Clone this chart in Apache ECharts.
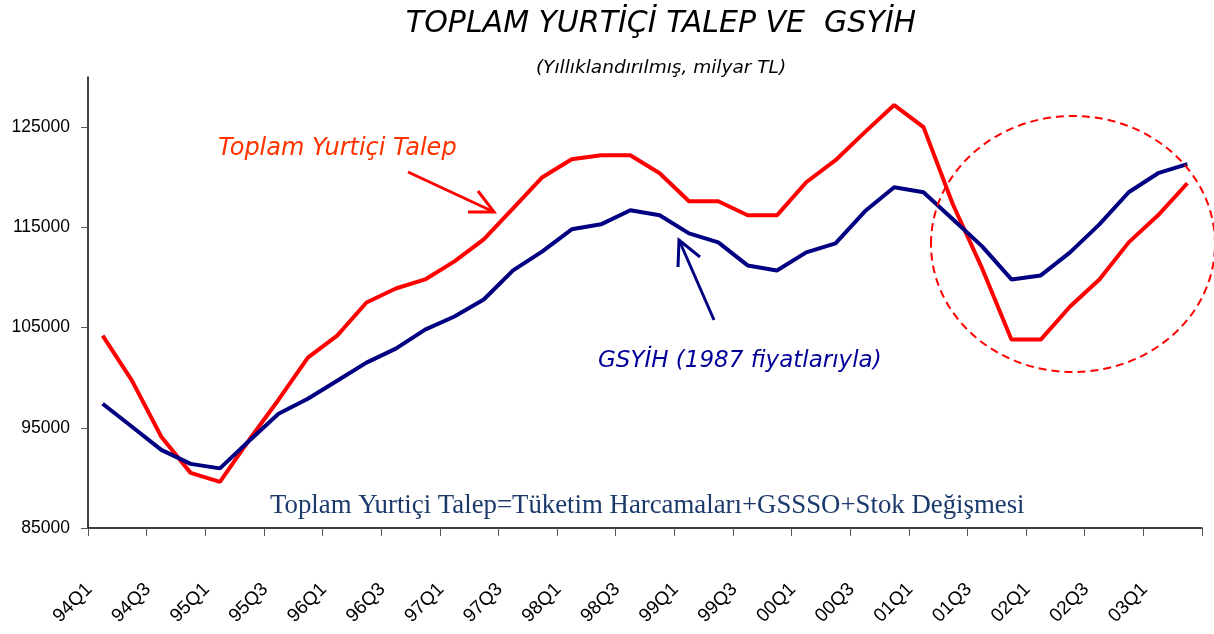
<!DOCTYPE html>
<html>
<meta charset="UTF-8">
<title>toplam-yurtici-talep</title>
<style type="text/css">
    html,
    body {
        margin: 0px;
        height: 100%;
        width: 100%;
        background: #fff;
    }

    #chart {
        width: 1214px;
        height: 634px;
    }
</style>
<script src="https://cdn.jsdelivr.net/npm/echarts@6/dist/echarts.min.js"></script>

<body>
    <div id="chart"></div>
    <script>
        // quarters 94Q1 .. 03Q2
        const quarters = [
            '94Q1', '94Q2', '94Q3', '94Q4', '95Q1', '95Q2', '95Q3', '95Q4',
            '96Q1', '96Q2', '96Q3', '96Q4', '97Q1', '97Q2', '97Q3', '97Q4',
            '98Q1', '98Q2', '98Q3', '98Q4', '99Q1', '99Q2', '99Q3', '99Q4',
            '00Q1', '00Q2', '00Q3', '00Q4', '01Q1', '01Q2', '01Q3', '01Q4',
            '02Q1', '02Q2', '02Q3', '02Q4', '03Q1', '03Q2'
        ];
        const talep = [
            104200, 99700, 94100, 90500, 89600, 93800, 97800, 102000,
            104200, 107500, 108900, 109800, 111600, 113800, 116900, 120000,
            121800, 122200, 122200, 120400, 117600, 117600, 116200, 116200,
            119500, 121700, 124500, 127200, 125000, 117300, 110900, 103800,
            103800, 107100, 109800, 113500, 116200, 119400
        ];
        const gsyih = [
            97400, 95100, 92800, 91400, 90950, 93700, 96400, 97900,
            99700, 101500, 102900, 104800, 106100, 107800, 110700, 112600,
            114800, 115300, 116700, 116200, 114400, 113500, 111200, 110700,
            112500, 113400, 116600, 119000, 118500, 115800, 113100, 109800,
            110200, 112500, 115300, 118500, 120400, 121300
        ];
        const yTicks = [85000, 95000, 105000, 115000, 125000];

        const sans = "'DejaVu Sans', Verdana, sans-serif";
        const arial = "'Liberation Sans', Arial, sans-serif";
        const chart = echarts.init(document.getElementById('chart'));

        const options = {
            animation: false,
            backgroundColor: '#fff',
            grid: {
                left: 88,
                right: 12,
                top: 77,
                bottom: 106
            },
            xAxis: {
                type: 'category',
                data: quarters,
                boundaryGap: true,
                axisLine: { lineStyle: { color: '#000', width: 1.5 } },
                axisTick: { show: true, interval: 1, length: 8, lineStyle: { color: '#555', width: 1 } },
                axisLabel: {
                    interval: 1,
                    rotate: 45,
                    margin: 45,
                    padding: [0, 19, 0, 0],
                    color: '#000',
                    fontSize: 19,
                    fontFamily: arial
                },
                splitLine: { show: false }
            },
            yAxis: {
                type: 'value',
                min: 85000,
                max: 130000,
                axisLine: { show: true, lineStyle: { color: '#000', width: 1.5 } },
                axisTick: { show: true, length: 7, customValues: yTicks, lineStyle: { color: '#555' } },
                axisLabel: {
                    customValues: yTicks,
                    formatter: v => String(v),
                    margin: 18,
                    color: '#000',
                    fontSize: 17.5,
                    fontFamily: arial
                },
                splitLine: { show: false }
            },
            series: [
                {
                    name: 'Toplam Yurtiçi Talep',
                    type: 'line',
                    data: talep,
                    showSymbol: false,
                    lineStyle: { color: '#ff0000', width: 4 },
                    z: 3
                },
                {
                    name: 'GSYİH (1987 fiyatlarıyla)',
                    type: 'line',
                    data: gsyih,
                    showSymbol: false,
                    lineStyle: { color: '#000080', width: 4 },
                    z: 4
                }
            ],
            graphic: [
                {
                    type: 'text', x: 661, y: 24,
                    style: {
                        text: 'TOPLAM YURTİÇİ TALEP VE  GSYİH',
                        font: 'italic 30px ' + sans,
                        fill: '#000', align: 'center', verticalAlign: 'middle'
                    }
                },
                {
                    type: 'text', x: 661, y: 68,
                    style: {
                        text: '(Yıllıklandırılmış, milyar TL)',
                        font: 'italic 18.5px ' + sans,
                        fill: '#000', align: 'center', verticalAlign: 'middle'
                    }
                },
                {
                    type: 'text', x: 218, y: 149,
                    style: {
                        text: 'Toplam Yurtiçi Talep',
                        font: 'italic 24px ' + sans,
                        fill: '#ff3300', align: 'left', verticalAlign: 'middle'
                    }
                },
                {
                    type: 'text', x: 598, y: 361,
                    style: {
                        text: 'GSYİH (1987 fiyatlarıyla)',
                        font: 'italic 23px ' + sans,
                        fill: '#000099', align: 'left', verticalAlign: 'middle'
                    }
                },
                {
                    type: 'text', x: 270, y: 506,
                    style: {
                        text: 'Toplam Yurtiçi Talep=Tüketim Harcamaları+GSSSO+Stok Değişmesi',
                        font: "26.8px 'Liberation Serif', 'Times New Roman', serif",
                        fill: '#1b3a6b', align: 'left', verticalAlign: 'middle'
                    }
                },
                // red arrow
                {
                    type: 'polyline',
                    shape: { points: [[408, 172], [494, 212]] },
                    style: { stroke: '#ff0000', lineWidth: 3, fill: null }
                },
                {
                    type: 'polyline',
                    shape: { points: [[478, 191], [494, 212], [468, 212]] },
                    style: { stroke: '#ff0000', lineWidth: 3, fill: null }
                },
                // blue arrow
                {
                    type: 'polyline',
                    shape: { points: [[714, 320], [679, 240]] },
                    style: { stroke: '#000080', lineWidth: 3, fill: null }
                },
                {
                    type: 'polyline',
                    shape: { points: [[678, 267], [679, 240], [700, 257]] },
                    style: { stroke: '#000080', lineWidth: 3, fill: null }
                },
                // dashed ellipse
                {
                    type: 'ellipse',
                    shape: { cx: 1073, cy: 244, rx: 142, ry: 128 },
                    style: { stroke: '#ff0000', lineWidth: 2, lineDash: [8, 5], fill: null },
                    z: 10
                }
            ]
        };
        chart.setOption(options);
    </script>
</body>

</html>
